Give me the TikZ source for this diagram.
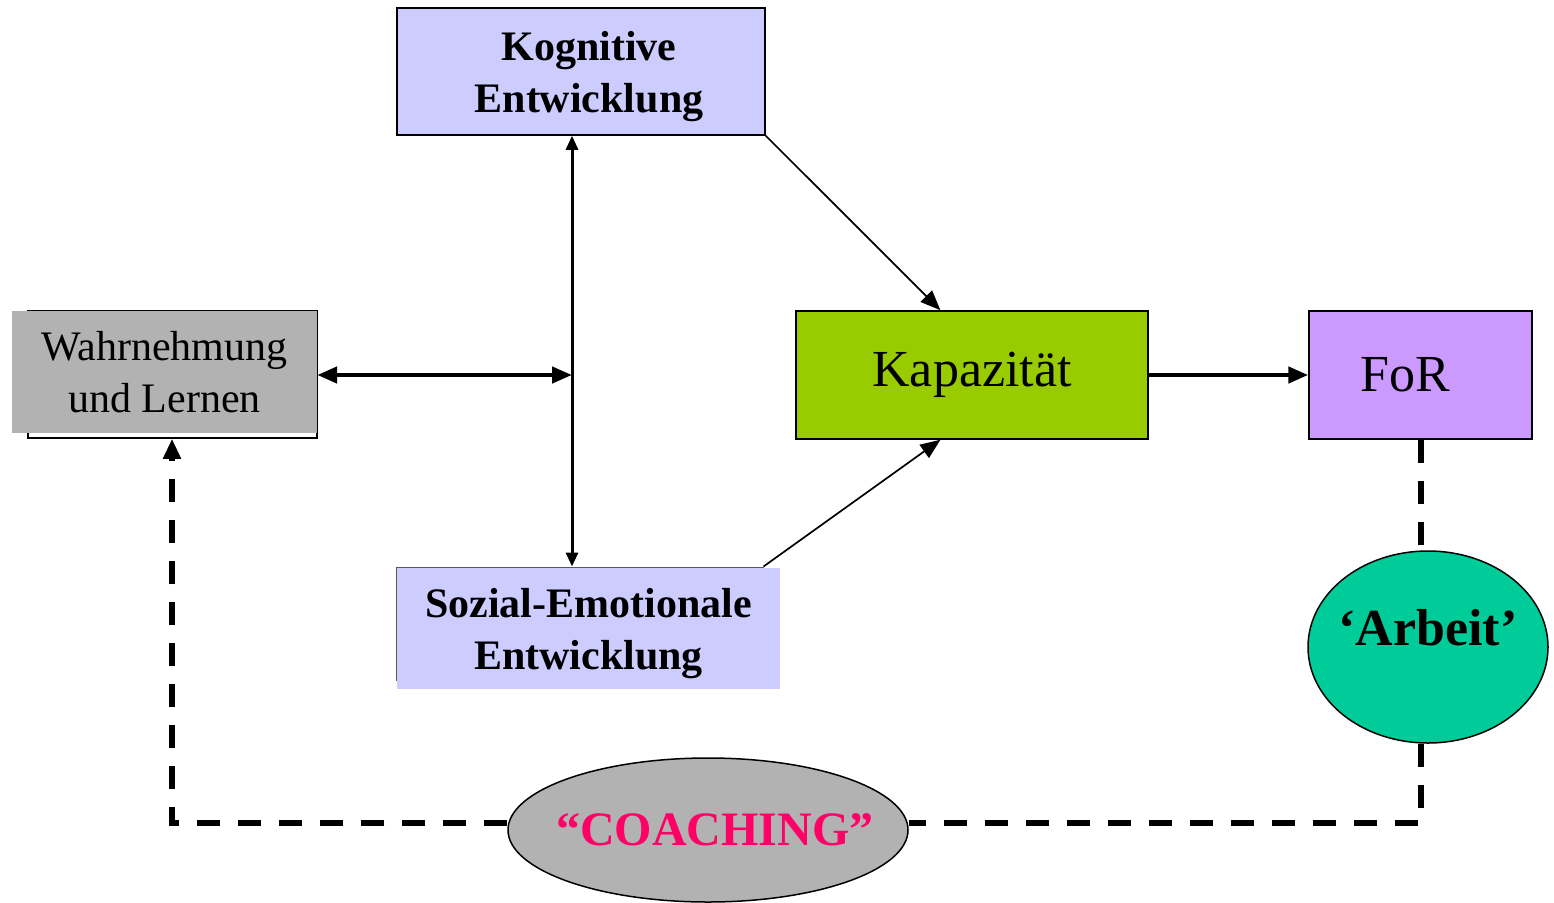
\documentclass[tikz,border=0pt]{standalone}
\usepackage{fontspec}
\setmainfont{Liberation Serif}
\usetikzlibrary{arrows.meta,shapes.geometric}
\definecolor{hellblau}{HTML}{CCCCFF}
\definecolor{grau}{HTML}{B2B2B2}
\definecolor{gruen}{HTML}{99CC00}
\definecolor{lila}{HTML}{CC99FF}
\definecolor{tuerkis}{HTML}{00CC99}
\definecolor{pink}{HTML}{FF0066}

\begin{document}
\begin{tikzpicture}[x=1pt,y=-1pt,
    box/.style={rectangle,inner sep=0pt,align=center},
    rand/.style={box,draw,line width=1.5pt},
    fett/.style={font=\bfseries\fontsize{42}{52}\selectfont},
    normal/.style={font=\fontsize{42}{52}\selectfont},
    gross/.style={font=\fontsize{52}{60}\selectfont},
    oval/.style={ellipse,draw,line width=1.5pt,inner sep=0pt},
    pfeil/.style={-{Triangle[length=20pt,width=16pt]}},
    gestrichelt/.style={line width=6pt,dash pattern=on 23pt off 18pt}]
    \useasboundingbox (0,0) rectangle (1554,902);

    % Kaesten
    \node[rand,fill=hellblau,fett,minimum width=368,minimum height=127,
          text depth=0pt] (kog) at (581,71.5) {\hspace*{16pt}Kognitive\\\hspace*{16pt}Entwicklung};
    \node[rand,minimum width=289,minimum height=127] (wahrrand) at (172.5,374.5) {};
    \node[box,fill=grau,normal,minimum width=305,minimum height=122] (wahr) at (164.5,372) {Wahrnehmung\\und Lernen};
    \node[box,draw=black!65,line width=1pt,minimum width=367,minimum height=113] (sozrand) at (579.5,623.5) {};
    \node[box,fill=hellblau,fett,minimum width=383,minimum height=121,
          text depth=0pt] (soz) at (588.5,628.5) {Sozial-Emotionale\\Entwicklung};
    \node[rand,fill=gruen,gross,minimum width=352,minimum height=128] (kap) at (972,375) {Kapazit\"at};
    \node[rand,fill=lila,minimum width=223,minimum height=128,
          label={[gross,xshift=-15pt]center:FoR}] (for) at (1420.5,375) {};

    % Ovale
    \node[oval,fill=tuerkis,minimum width=240,minimum height=192,
          label={[font=\bfseries\fontsize{52}{60}\selectfont,yshift=19pt]center:‘Arbeit’}] (arb) at (1428,647) {};
    \node[oval,fill=grau,minimum width=400,minimum height=144,
          label={[text=pink,font=\bfseries\fontsize{48}{56}\selectfont,xshift=7pt]center:“COACHING”}] (coach) at (708,830) {};

    % Hilfspunkte
    \coordinate (mitte) at (572,375);
    \coordinate (ecke1) at (1420.5,823);
    \coordinate (ecke2) at (172,823);

    % Verbindungen
    \draw[{Triangle[length=14pt,width=12pt]}-{Triangle[length=14pt,width=12pt]},line width=3pt]
        (kog.south -| mitte) -- (sozrand.north -| mitte);
    \draw[{Triangle[length=20pt,width=16pt]}-{Triangle[length=20pt,width=16pt]},line width=4.5pt]
        (wahr.east |- mitte) -- (mitte);
    \draw[pfeil,line width=1.7pt] (kog.south east) -- (kap.116.6);
    \draw[pfeil,line width=1.7pt] (sozrand.north east) -- (kap.-116.6);
    \draw[pfeil,line width=4.5pt] (kap.east) -- (for.west);

    % gestrichelte Schleife
    \draw[gestrichelt] (for.south) -- (for.south |- arb.north);
    \draw[gestrichelt] (for.south |- arb.south) -- (ecke1) -- (coach.east |- ecke1);
    \draw[gestrichelt,-{Triangle[length=20pt,width=17pt]}]
        (coach.west |- ecke2) -- (ecke2) -- (wahrrand.south -| ecke2);
\end{tikzpicture}
\end{document}
